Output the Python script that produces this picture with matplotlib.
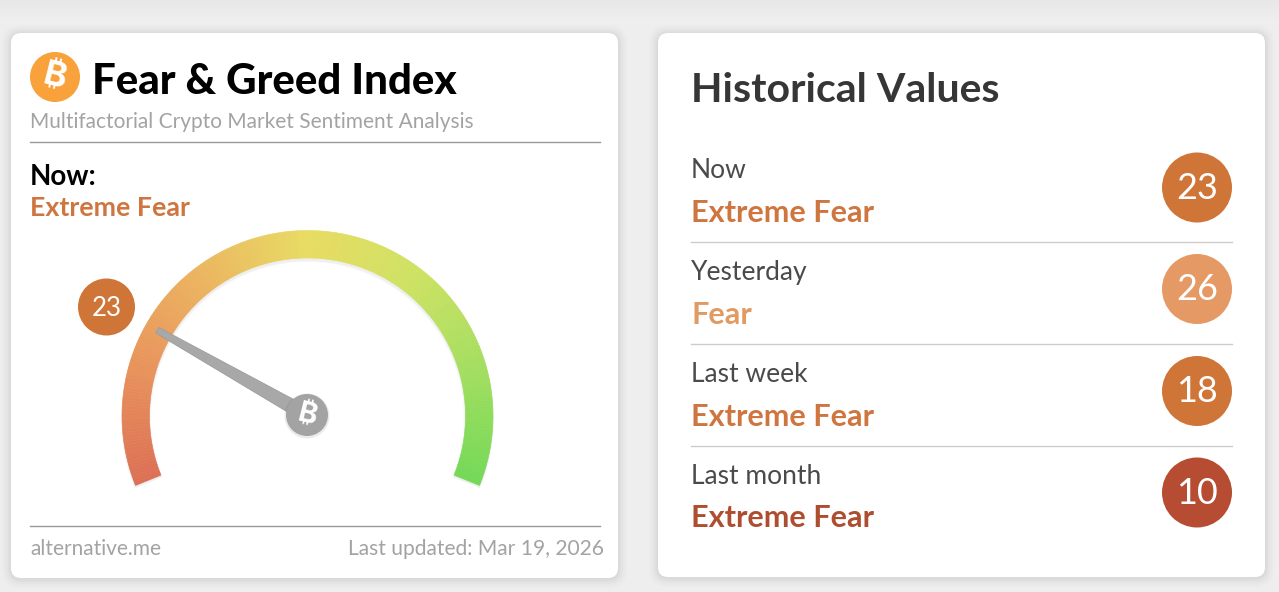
import numpy as np
import matplotlib
matplotlib.use('Agg')
import matplotlib.pyplot as plt
from matplotlib.patches import FancyBboxPatch, Circle, Polygon
from matplotlib.collections import PolyCollection
from matplotlib.colors import LinearSegmentedColormap

title = 'Fear & Greed Index'
subtitle = 'Multifactorial Crypto Market Sentiment Analysis'
now_value = 23
now_class = 'Extreme Fear'
source = 'alternative.me'
updated = 'Last updated: Mar 19, 2026'
hist_periods = ['Now', 'Yesterday', 'Last week', 'Last month']
hist_classes = ['Extreme Fear', 'Fear', 'Extreme Fear', 'Extreme Fear']
hist_values = [23, 26, 18, 10]
hist_colors = ['#D07538', '#E59A66', '#D07538', '#B64C31']
hist_text = ['#CF7540', '#E29A63', '#CF7540', '#AE4E30']
gauge_stops = ['#DC7055', '#E8935C', '#EBB560', '#E8DC62', '#CFE263', '#A4DE60', '#74D957']

W, H = 1279, 592
fig = plt.figure(figsize=(W / 100, H / 100), dpi=100, facecolor='#EEEEEE')
ax = fig.add_axes([0, 0, 1, 1])
ax.set_xlim(0, W)
ax.set_ylim(H, 0)
ax.axis('off')

LATO = ['Lato', 'DejaVu Sans']
COIN_FONTS = ['Inter', 'Noto Sans', 'Open Sans', 'Roboto', 'Liberation Sans', 'DejaVu Sans']


def px(v):
    return v * 0.72


# top page shading
shade = np.linspace(0.905, 0.935, 24).reshape(-1, 1)
ax.imshow(shade, extent=(0, W, 24, 0), cmap='gray', vmin=0, vmax=1, aspect='auto', zorder=0)
ax.set_xlim(0, W)
ax.set_ylim(H, 0)


def card(x0, y0, x1, y1):
    for g, a in [(9, .01), (7, .012), (5, .015), (3, .018), (1.5, .02)]:
        ax.add_patch(FancyBboxPatch((x0 - g, y0 - g + 1), x1 - x0 + 2 * g, y1 - y0 + 2 * g,
                                    boxstyle=f'round,pad=0,rounding_size={10 + g}',
                                    fc='black', ec='none', alpha=a, zorder=1))
    ax.add_patch(FancyBboxPatch((x0, y0), x1 - x0, y1 - y0,
                                boxstyle='round,pad=0,rounding_size=10',
                                fc='white', ec='none', zorder=2))


def coin(cx, cy, r, fc, size, color='white', z=6):
    ax.add_patch(Circle((cx, cy), r, fc=fc, ec='none', zorder=z))
    ax.text(cx, cy + 0.5, '\u20bf', fontsize=px(size), color=color, ha='center', va='center',
            family=COIN_FONTS, weight='bold', rotation=-14, zorder=z + 1)


card(11, 33, 618, 578)
card(658, 33, 1265, 577)

# left card header
coin(55, 77, 25, '#F9A13A', 35)
ax.text(92, 82, title, fontsize=px(42), weight='black', family=LATO, color='black', va='center', zorder=5)
ax.text(30, 122, subtitle, fontsize=px(20.9), family=LATO, color='#A3A3A3', va='center', zorder=5)
ax.plot([30, 600], [142, 142], color='#999999', lw=1, zorder=5)
ax.text(30, 177, 'Now:', fontsize=px(27.8), weight='bold', family=LATO, color='black', va='center', zorder=5)
ax.text(30, 208.5, now_class, fontsize=px(26.8), weight='bold', family=LATO, color=hist_text[0], va='center', zorder=5)

# gauge
cx, cy = 307.5, 416
r_out, r_in = 185.5, 158
a_start, a_end = 202, -22
n = 224
edges = np.radians(np.linspace(a_start, a_end, n + 1))
cmap = LinearSegmentedColormap.from_list('gauge', gauge_stops)


def seg_polys(ri, ro, dx=0, dy=0):
    polys = []
    for a0, a1 in zip(edges[:-1], edges[1:]):
        polys.append([(cx + dx + ro * np.cos(a0), cy + dy - ro * np.sin(a0)),
                      (cx + dx + ro * np.cos(a1), cy + dy - ro * np.sin(a1)),
                      (cx + dx + ri * np.cos(a1), cy + dy - ri * np.sin(a1)),
                      (cx + dx + ri * np.cos(a0), cy + dy - ri * np.sin(a0))])
    return polys


for g, a in [(4, .012), (2.5, .02), (1, .03)]:
    ax.add_collection(PolyCollection(seg_polys(r_in - g * .5, r_out + g * .3, 0, 2.5), facecolors=(0, 0, 0, a),
                                     edgecolors='none', zorder=3))
cols = cmap(np.linspace(0, 1, n))
ax.add_collection(PolyCollection(seg_polys(r_in, r_out), facecolors=cols, edgecolors=cols, linewidths=0.4, zorder=4))

# needle
ang = np.radians(a_start - now_value / 100 * (a_start - a_end))
u = np.array([np.cos(ang), -np.sin(ang)])
nrm = np.array([u[1], -u[0]])
piv = np.array([cx - 0.5, cy - 1])
tip = piv + u * 172
ax.add_patch(Polygon([tip + nrm * 3.2, tip - nrm * 3.2, piv - nrm * 7.5, piv + nrm * 7.5],
                     fc='#A8A8A8', ec='#9A9A9A', lw=.5, zorder=5))
ax.add_patch(Circle((307, 416), 22.5, fc='black', alpha=.08, ec='none', zorder=5))
coin(307, 415, 21, '#A3A3A3', 29, z=6)

# value badge
ax.add_patch(Circle((106.5, 307), 28.5, fc=hist_colors[0], ec='none', zorder=5))
ax.text(106.5, 308.5, str(now_value), fontsize=px(26), family=LATO, color='white', ha='center', va='center', zorder=6)

# left footer
ax.plot([30, 600], [526, 526], color='#999999', lw=1, zorder=5)
ax.text(30, 549, source, fontsize=px(20.9), family=LATO, color='#A3A3A3', va='center', zorder=5)
ax.text(604, 549, updated, fontsize=px(21), family=LATO, color='#A3A3A3', va='center', ha='right', zorder=5)

# right card
ax.text(691, 90, 'Historical Values', fontsize=px(41), weight='bold', family=LATO, color='#363636',
        va='center', zorder=5)
row_y = [170, 271.5, 373.5, 475]
for i, (p, c, v) in enumerate(zip(hist_periods, hist_classes, hist_values)):
    y = row_y[i]
    ax.text(691, y + 1, p, fontsize=px(26.4), family=LATO, color='#4A4A4A', va='center', zorder=5)
    ax.text(691, y + 43, c, fontsize=px(30.8), weight='bold', family=LATO, color=hist_text[i], va='center', zorder=5)
    ax.add_patch(Circle((1197, y + 17.5), 35, fc=hist_colors[i], ec='none', zorder=5))
    ax.text(1197, y + 18.5, str(v), fontsize=px(36), family=LATO, color='white', ha='center', va='center', zorder=6)
    if i < 3:
        ax.plot([691, 1232], [y + 72, y + 72], color='#CCCCCC', lw=1, zorder=5)

fig.savefig('out.png', dpi=100, facecolor=fig.get_facecolor())
